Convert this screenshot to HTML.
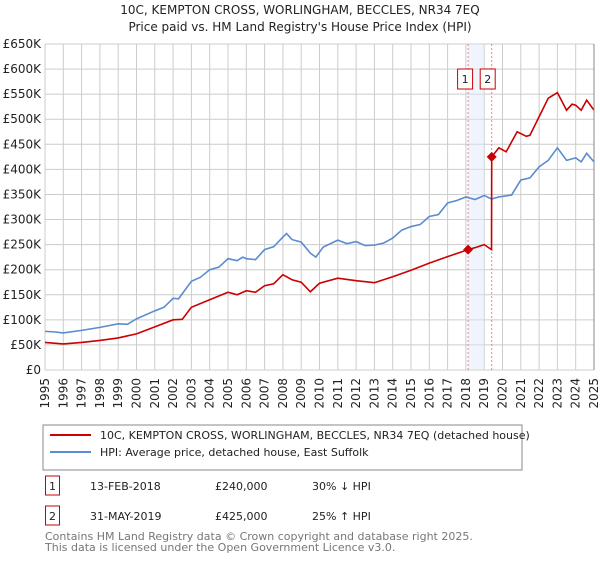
<!DOCTYPE html>
<html><head><meta charset="utf-8"><style>
body{margin:0;background:#fff;width:600px;height:560px;overflow:hidden;font-family:"DejaVu Sans","Liberation Sans",sans-serif;}
svg text{font-family:"DejaVu Sans","Liberation Sans",sans-serif;}
</style></head><body>
<svg id="c" width="600" height="560" xmlns="http://www.w3.org/2000/svg">
<text x="300" y="14" text-anchor="middle" font-size="12" fill="#222">10C, KEMPTON CROSS, WORLINGHAM, BECCLES, NR34 7EQ</text>
<text x="300" y="31" text-anchor="middle" font-size="12" fill="#222">Price paid vs. HM Land Registry's House Price Index (HPI)</text>
<g id="grid"></g><g id="marks"></g><g id="axes"></g>
<rect x="43" y="425" width="479" height="45" fill="#fff" stroke="#888"/>
<line x1="50" y1="435" x2="91" y2="435" stroke="#cc0000" stroke-width="2"/>
<text x="100" y="439" font-size="11" fill="#222">10C, KEMPTON CROSS, WORLINGHAM, BECCLES, NR34 7EQ (detached house)</text>
<line x1="50" y1="452" x2="91" y2="452" stroke="#5b8bd0" stroke-width="2"/>
<text x="100" y="456" font-size="11" fill="#222">HPI: Average price, detached house, East Suffolk</text>
<g>
<rect x="45.5" y="476" width="14" height="19" fill="#fff" stroke="#cc0000"/><text x="52.5" y="490" text-anchor="middle" font-size="11" fill="#222">1</text>
<text x="90" y="490" font-size="11" fill="#222">13-FEB-2018</text><text x="215" y="490" font-size="11" fill="#222">£240,000</text><text x="312" y="490" font-size="11" fill="#222">30% ↓ HPI</text></g>
<g>
<rect x="45.5" y="506" width="14" height="19" fill="#fff" stroke="#cc0000"/><text x="52.5" y="520" text-anchor="middle" font-size="11" fill="#222">2</text>
<text x="90" y="520" font-size="11" fill="#222">31-MAY-2019</text><text x="215" y="520" font-size="11" fill="#222">£425,000</text><text x="312" y="520" font-size="11" fill="#222">25% ↑ HPI</text></g>
<text x="45" y="540" font-size="11" fill="#777">Contains HM Land Registry data © Crown copyright and database right 2025.</text>
<text x="45" y="551" font-size="11" fill="#777">This data is licensed under the Open Government Licence v3.0.</text>
</svg>
<script>
const yTicks=[0,50,100,150,200,250,300,350,400,450,500,550,600,650];
const yearTicks=[1995,1996,1997,1998,1999,2000,2001,2002,2003,2004,2005,2006,2007,2008,2009,2010,2011,2012,2013,2014,2015,2016,2017,2018,2019,2020,2021,2022,2023,2024,2025];
const hpiT=[1995,1995.5,1996,1997,1998,1999,1999.5,2000,2001,2001.5,2002,2002.3,2003,2003.5,2004,2004.5,2005,2005.5,2005.8,2006,2006.5,2007,2007.5,2008,2008.2,2008.5,2009,2009.5,2009.8,2010.2,2011,2011.5,2012,2012.5,2013,2013.5,2014,2014.5,2015,2015.5,2016,2016.5,2017,2017.5,2018,2018.5,2019,2019.4,2019.8,2020.5,2021,2021.5,2022,2022.5,2023,2023.5,2024,2024.3,2024.6,2025];
const hpiV=[77,76,74,79,85,92,91,102,118,125,143,142,177,185,200,205,222,218,225,222,220,240,246,265,272,260,255,233,225,245,259,252,256,248,249,253,263,279,286,290,306,310,333,338,345,340,348,341,345,349,379,383,405,418,443,418,423,415,432,415];
const priceT=[1995,1996,1997,1998,1999,2000,2001,2002,2002.5,2003,2004,2005,2005.5,2006,2006.5,2007,2007.5,2008,2008.5,2009,2009.5,2010,2011,2012,2013,2014,2015,2016,2017,2018.12,2018.6,2019,2019.4,2019.41,2019.8,2020.2,2020.8,2021.3,2021.5,2022,2022.5,2023,2023.5,2023.8,2024,2024.3,2024.6,2025];
const priceV=[55,52,55,59,64,72,86,100,101,125,140,155,150,158,155,168,172,190,180,175,156,173,183,178,174,186,199,213,226,240,245,250,240,425,443,435,475,466,468,505,542,553,518,530,528,518,538,518];
const saleT=[2018.12,2019.41];
const saleV=[240,425];
const saleLabels=["1","2"];
const x=t=>45+(t-1995)*(549/30), y=v=>370-v*(326/650);
const NS="http://www.w3.org/2000/svg";
function mk(p,tag,a){const e=document.createElementNS(NS,tag);for(const k in a)e.setAttribute(k,a[k]);p.appendChild(e);return e;}
const grid=document.getElementById('grid'),marks=document.getElementById('marks'),axes=document.getElementById('axes');
mk(grid,'rect',{x:45,y:44,width:549,height:326,fill:'#fff'});
yTicks.forEach(v=>{const l=mk(grid,'line',{x1:45,x2:594,y1:y(v),y2:y(v),stroke:'#ccc'});


const t=mk(axes,'text',{x:41,y:y(v)+4,'text-anchor':'end','font-size':12,fill:'#222'});t.textContent=v===0?'£0':'£'+v+'K';

});
yearTicks.forEach(yr=>{const l=mk(grid,'line',{x1:x(yr),x2:x(yr),y1:44,y2:370,stroke:'#ccc'});


const t=mk(axes,'text',{transform:`translate(${x(yr)+4},378) rotate(-90)`,'text-anchor':'end','font-size':12,fill:'#222'});t.textContent=yr;

});
const sh=mk(marks,'rect',{x:x(saleT[0]),y:44,width:x(2019.0)-x(saleT[0]),height:326,fill:'#dde6f8',opacity:0.45});


saleT.forEach((t,i)=>{const l=mk(marks,'line',{x1:x(t),x2:x(t),y1:44,y2:370,stroke:'#f08080','stroke-dasharray':'2,2'});

});
const line=(T,V,c,n)=>{const p=mk(marks,'polyline',{points:T.map((t,i)=>x(t)+','+y(V[i])).join(' '),fill:'none',stroke:c,'stroke-width':1.6});

};
line(hpiT,hpiV,'#5b8bd0','hpi-line');
line(priceT,priceV,'#cc0000','price-paid-line');
saleT.forEach((t,i)=>{const d=mk(marks,'path',{d:`M${x(t)-5},${y(saleV[i])} l5,-5 l5,5 l-5,5z`,fill:'#cc0000'});


const bx=x(t)-(i===0?3:4), r=mk(marks,'rect',{x:bx-7.5,y:69,width:15,height:20,fill:'#fff',stroke:'#cc0000'});


const tx=mk(marks,'text',{x:bx,y:83,'text-anchor':'middle','font-size':11,fill:'#222'});tx.textContent=saleLabels[i];

});
mk(axes,'line',{x1:594,x2:594,y1:44,y2:370,stroke:'#888'});
</script>
</body></html>
